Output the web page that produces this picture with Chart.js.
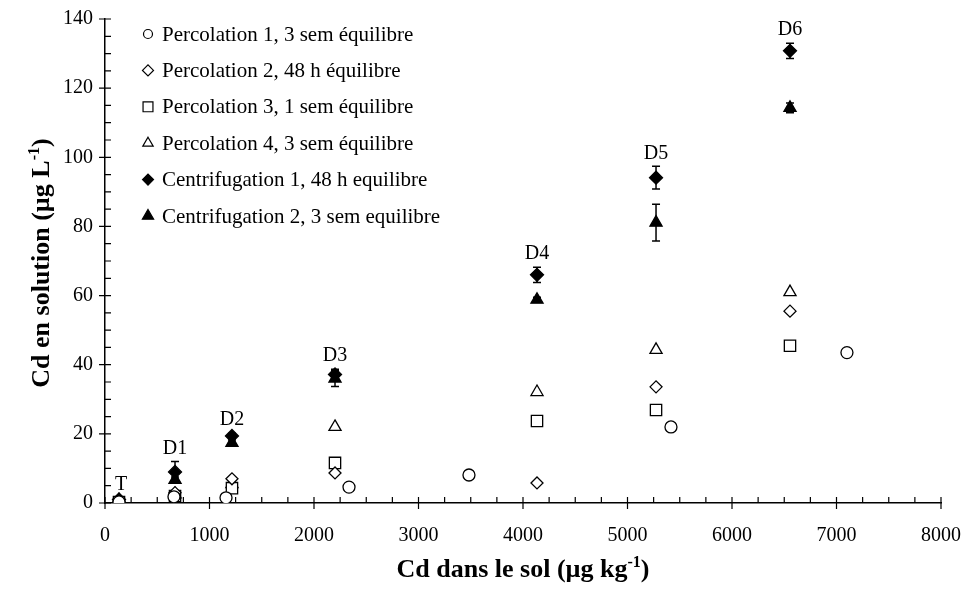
<!DOCTYPE html>
<html>
<head>
<meta charset="utf-8">
<script src="https://cdn.jsdelivr.net/npm/chart.js@4/dist/chart.umd.min.js"></script>
<style>
  html, body { margin: 0; padding: 0; background: #fff; }
  canvas { display: block; }
</style>
</head>
<body>
<canvas id="chart" width="963" height="593"></canvas>
<script>
const SERIF = '"Liberation Serif", "Times New Roman", serif';

// dose labels and soil Cd (µg/kg) for each dose
const doseLabels = ['T', 'D1', 'D2', 'D3', 'D4', 'D5', 'D6'];
const soilCd     = [134, 670, 1215, 2201, 4134, 5273, 6555];
const perc1Soil  = [134, 660, 1158, 2335, 3483, 5416, 7100];

// Cd in solution (µg/L)
const perc1 = [0.3, 1.8, 1.5, 4.6, 8.1, 22.0, 43.5];
const perc2 = [0.5, 3.0, 7.0, 8.7, 5.8, 33.6, 55.5];
const perc3 = [0.3, 2.0, 4.3, 11.6, 23.7, 26.9, 45.5];
const perc4 = [0.5, 2.5, 5.5, 22.0, 32.1, 44.3, 61.0];
const cen1  = [1.0, 9.0, 19.4, 37.2, 66.0, 94.1, 130.8];
const cen1Err = [0.5, 3.0, 0.8, 1.5, 2.2, 3.3, 2.2];
const cen2  = [0.8, 6.7, 17.4, 36.0, 58.8, 81.1, 114.3];
const cen2Err = [0.3, 0.8, 0.8, 2.3, 0.7, 5.3, 1.4];

const seriesNames = [
    'Percolation 1, 3 sem équilibre',
    'Percolation 2, 48 h équilibre',
    'Percolation 3, 1 sem équilibre',
    'Percolation 4, 3 sem équilibre',
    'Centrifugation 1, 48 h equilibre',
    'Centrifugation 2, 3 sem equilibre',
];

const pts = (xs, ys) => ys.map((y, i) => ({ x: xs[i], y }));

function series(i, xs, ys, style, radius, filled, legendRadius, err) {
    return {
        label: seriesNames[i],
        data: pts(xs, ys),
        pointStyle: style,
        pointRadius: radius,
        pointHoverRadius: radius,
        pointBorderWidth: 1.3,
        pointBackgroundColor: filled ? '#000' : '#fff',
        pointBorderColor: '#000',
        showLine: false,
        legendRadius,
        err,
    };
}

const datasets = [
    series(0, perc1Soil, perc1, 'circle', 6, false, 4.5),
    series(1, soilCd, perc2, 'rectRot', 6, false, 5.5),
    series(2, soilCd, perc3, 'rect', 8, false, 7),
    series(3, soilCd, perc4, 'triangle', 7, false, 6),
    series(4, soilCd, cen1, 'rectRot', 6.5, true, 5.5, cen1Err),
    series(5, soilCd, cen2, 'triangle', 7, true, 6.5, cen2Err),
];

// error bars, drawn under the markers
const errorBars = {
    id: 'errorBars',
    beforeDatasetsDraw(chart) {
        const { ctx, scales: { x, y } } = chart;
        ctx.save();
        ctx.strokeStyle = '#000';
        ctx.lineWidth = 1.5;
        chart.data.datasets.forEach(ds => {
            if (!ds.err) return;
            ds.data.forEach((p, i) => {
                const px = x.getPixelForValue(p.x);
                const top = y.getPixelForValue(p.y + ds.err[i]);
                const bot = y.getPixelForValue(Math.max(0, p.y - ds.err[i]));
                ctx.beginPath();
                ctx.moveTo(px, top); ctx.lineTo(px, bot);
                ctx.moveTo(px - 4, top); ctx.lineTo(px + 4, top);
                ctx.moveTo(px - 4, bot); ctx.lineTo(px + 4, bot);
                ctx.stroke();
            });
        });
        ctx.restore();
    },
};

// major ticks cross the axis, minor ticks point inward
const axisTicks = {
    id: 'axisTicks',
    afterDraw(chart) {
        const { ctx, scales: { x, y }, chartArea } = chart;
        ctx.save();
        ctx.strokeStyle = '#000';
        ctx.lineWidth = 1.2;
        ctx.beginPath();
        for (let v = 0; v <= 8000; v += 250) {
            const px = x.getPixelForValue(v);
            const major = v % 1000 === 0;
            ctx.moveTo(px, chartArea.bottom + (major ? 6 : 0));
            ctx.lineTo(px, chartArea.bottom - 6);
        }
        for (let v = 0; v <= 140; v += 5) {
            const py = y.getPixelForValue(v);
            const major = v % 20 === 0;
            ctx.moveTo(chartArea.left - (major ? 6 : 0), py);
            ctx.lineTo(chartArea.left + 6, py);
        }
        ctx.stroke();
        ctx.restore();
    },
};

// dose labels above the centrifugation 1 markers
const doseText = {
    id: 'doseText',
    afterDatasetsDraw(chart) {
        const { ctx, scales: { x, y } } = chart;
        ctx.save();
        ctx.fillStyle = '#000';
        ctx.font = '20px ' + SERIF;
        ctx.textAlign = 'center';
        ctx.textBaseline = 'middle';
        doseLabels.forEach((lab, i) => {
            const px = x.getPixelForValue(soilCd[i]);
            const py = y.getPixelForValue(cen1[i] + cen1Err[i]) - 13;
            ctx.fillText(lab, px + (i === 0 ? 2 : 0), py);
        });
        ctx.restore();
    },
};

// legend inside the plot, top left
const insideLegend = {
    id: 'insideLegend',
    afterDraw(chart) {
        const { ctx, chartArea } = chart;
        ctx.save();
        ctx.font = '21px ' + SERIF;
        ctx.textBaseline = 'middle';
        chart.data.datasets.forEach((ds, i) => {
            const cx = chartArea.left + 43;
            const cy = chartArea.top + 15 + i * 36.4;
            ctx.fillStyle = ds.pointBackgroundColor;
            ctx.strokeStyle = '#000';
            ctx.lineWidth = 1.2;
            Chart.helpers.drawPoint(ctx, {
                pointStyle: ds.pointStyle, rotation: 0,
                radius: ds.legendRadius, borderWidth: 1.2,
            }, cx, cy);
            ctx.fillStyle = '#000';
            ctx.fillText(ds.label, cx + 14, cy + 1);
        });
        ctx.restore();
    },
};

function supText(ctx, base, sup, tail, cx, cy) {
    const big = 'bold 26px ' + SERIF, small = 'bold 16px ' + SERIF;
    ctx.font = big;  const w1 = ctx.measureText(base).width;
    const w3 = ctx.measureText(tail).width;
    ctx.font = small; const w2 = ctx.measureText(sup).width;
    let x0 = cx - (w1 + w2 + w3) / 2;
    ctx.textAlign = 'left';
    ctx.textBaseline = 'alphabetic';
    ctx.font = big;   ctx.fillText(base, x0, cy);
    ctx.font = small; ctx.fillText(sup, x0 + w1, cy - 10);
    ctx.font = big;   ctx.fillText(tail, x0 + w1 + w2, cy);
}

const axisTitles = {
    id: 'axisTitles',
    afterDraw(chart) {
        const { ctx, chartArea } = chart;
        ctx.save();
        ctx.fillStyle = '#000';
        supText(ctx, 'Cd dans le sol (µg kg', '-1', ')',
            (chartArea.left + chartArea.right) / 2, 577);
        ctx.translate(49, (chartArea.top + chartArea.bottom) / 2 + 2);
        ctx.rotate(-Math.PI / 2);
        supText(ctx, 'Cd en solution (µg L', '-1', ')', 0, 0);
        ctx.restore();
    },
};

const tickFont = { family: SERIF, size: 20 };

new Chart(document.getElementById('chart'), {
    type: 'scatter',
    data: { datasets },
    options: {
        responsive: false,
        animation: false,
        layout: { padding: { top: 19, right: 0, left: 0, bottom: 0 } },
        plugins: { legend: { display: false }, tooltip: { enabled: false } },
        scales: {
            x: {
                type: 'linear', min: 0, max: 8000,
                afterFit: s => { s.height = 90; s.paddingLeft = 0; s.paddingRight = 22; },
                grid: { display: false, drawTicks: false },
                border: { display: true, color: '#000', width: 1.5 },
                ticks: { stepSize: 1000, color: '#000', padding: 21,
                         font: tickFont, callback: v => String(v) },
            },
            y: {
                type: 'linear', min: 0, max: 140,
                afterFit: s => { s.width = 105; s.paddingTop = 0; s.paddingBottom = 0; },
                grid: { display: false, drawTicks: false },
                border: { display: true, color: '#000', width: 1.5 },
                ticks: { stepSize: 20, color: '#000', padding: 12,
                         font: tickFont, callback: v => String(v) },
            },
        },
    },
    plugins: [errorBars, axisTicks, doseText, insideLegend, axisTitles],
});
</script>
</body>
</html>
